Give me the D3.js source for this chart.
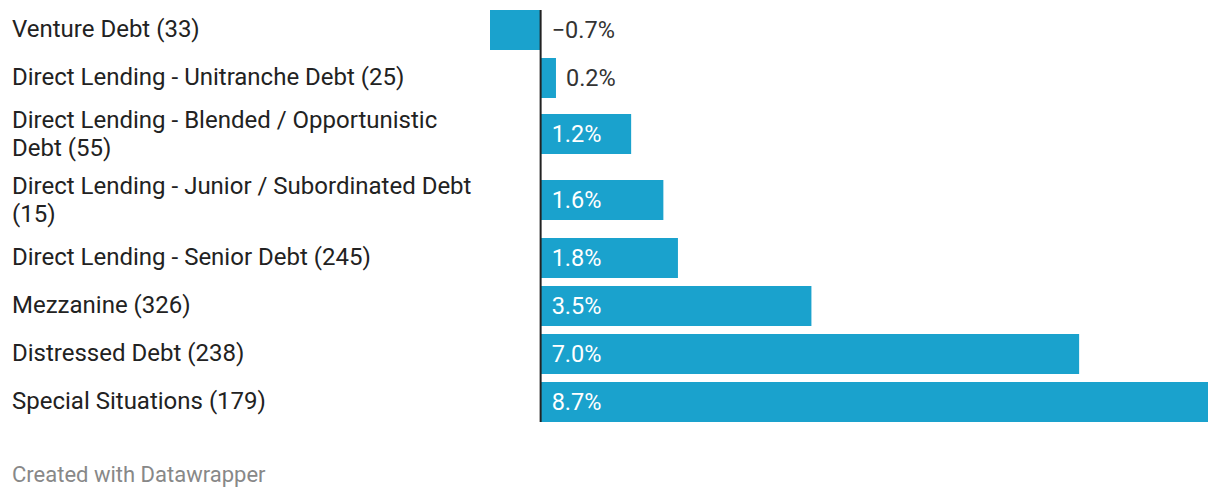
<!DOCTYPE html>
<html>
<head>
<meta charset="utf-8">
<script src="https://cdn.jsdelivr.net/npm/d3@7"></script>
<style>
  html, body { margin: 0; padding: 0; background: #fff; }
  svg { display: block; font-family: Roboto, "Noto Sans", sans-serif; }
</style>
</head>
<body>
<svg id="chart" width="1220" height="498"></svg>
<script>
const categories = [
  "Venture Debt (33)",
  "Direct Lending - Unitranche Debt (25)",
  "Direct Lending - Blended / Opportunistic Debt (55)",
  "Direct Lending - Junior / Subordinated Debt (15)",
  "Direct Lending - Senior Debt (245)",
  "Mezzanine (326)",
  "Distressed Debt (238)",
  "Special Situations (179)"
];
const values = [-0.66, 0.2, 1.18, 1.6, 1.79, 3.53, 7.02, 8.7];
const footerText = "Created with Datawrapper";

(function () {
const labelX = 12, labelMaxW = 470;
const barH = 40, rowGap = 8, lineH = 28, chartTop = 10;
const barColor = "#1aa2cd";
const labelSize = 24, valueSize = 23.5, footerSize = 22;

const svg = d3.select("#chart");

// measure / wrap labels
const measure = svg.append("text").attr("font-size", labelSize).attr("visibility", "hidden");
function wrap(str) {
  const words = str.split(" ");
  const lines = [];
  let cur = "";
  for (const w of words) {
    const test = cur ? cur + " " + w : w;
    measure.text(test);
    if (measure.node().getComputedTextLength() > labelMaxW && cur) {
      lines.push(cur);
      cur = w;
    } else cur = test;
  }
  lines.push(cur);
  return lines;
}
const wrapped = categories.map(wrap);
measure.remove();

// row layout
let yCursor = chartTop;
const rows = categories.map((c, i) => {
  const n = wrapped[i].length;
  const h = Math.max(barH, n * lineH + 2);
  const r = { cat: c, value: values[i], lines: wrapped[i], y: yCursor, h: h,
              cy: yCursor + h / 2, by: yCursor + h / 2 - (n > 1 ? 1 : 0) };
  yCursor += h + rowGap;
  return r;
});

const x = d3.scaleLinear()
  .domain([Math.min(0, d3.min(values)), d3.max(values)])
  .range([490, 1208]);

const fmt = v => (v < 0 ? "\u2212" : "") + Math.abs(v).toFixed(1) + "%";

// labels
const lab = svg.append("g").selectAll("text").data(rows).join("text")
  .attr("x", labelX)
  .attr("font-size", labelSize)
  .attr("fill", "#222");
lab.each(function (d) {
  const t = d3.select(this);
  const n = d.lines.length;
  d.lines.forEach((ln, k) => {
    t.append("tspan")
      .attr("x", labelX)
      .attr("y", d.cy - 1 + (k - (n - 1) / 2) * lineH)
      .attr("dy", "0.35em")
      .text(ln);
  });
});

// bars
svg.append("g").selectAll("rect").data(rows).join("rect")
  .attr("x", d => Math.min(x(0), x(d.value)))
  .attr("width", d => Math.abs(x(d.value) - x(0)))
  .attr("y", d => d.by - barH / 2)
  .attr("height", barH)
  .attr("fill", barColor);

// zero axis line
svg.append("line")
  .attr("x1", x(0)).attr("x2", x(0))
  .attr("y1", rows[0].by - barH / 2)
  .attr("y2", rows[rows.length - 1].by + barH / 2)
  .attr("stroke", "#222")
  .attr("stroke-width", 2);

// value labels
const vl = svg.append("g").selectAll("text").data(rows).join("text")
  .attr("font-size", valueSize)
  .attr("y", d => d.by)
  .attr("dy", "0.35em")
  .text(d => fmt(d.value));
vl.each(function (d) {
  const t = d3.select(this);
  const tw = this.getComputedTextLength();
  const bw = x(d.value) - x(0);
  if (d.value >= 0 && bw > tw + 22) {
    t.attr("x", x(0) + 11).attr("fill", "#fff");
  } else if (d.value >= 0) {
    t.attr("x", x(d.value) + 10).attr("fill", "#333");
  } else {
    t.attr("x", x(0) + 11).attr("fill", "#333");
  }
});

// footer
svg.append("text")
  .attr("x", labelX)
  .attr("y", 482)
  .attr("font-size", footerSize)
  .attr("fill", "#888")
  .text(footerText);
})();
</script>
</body>
</html>
